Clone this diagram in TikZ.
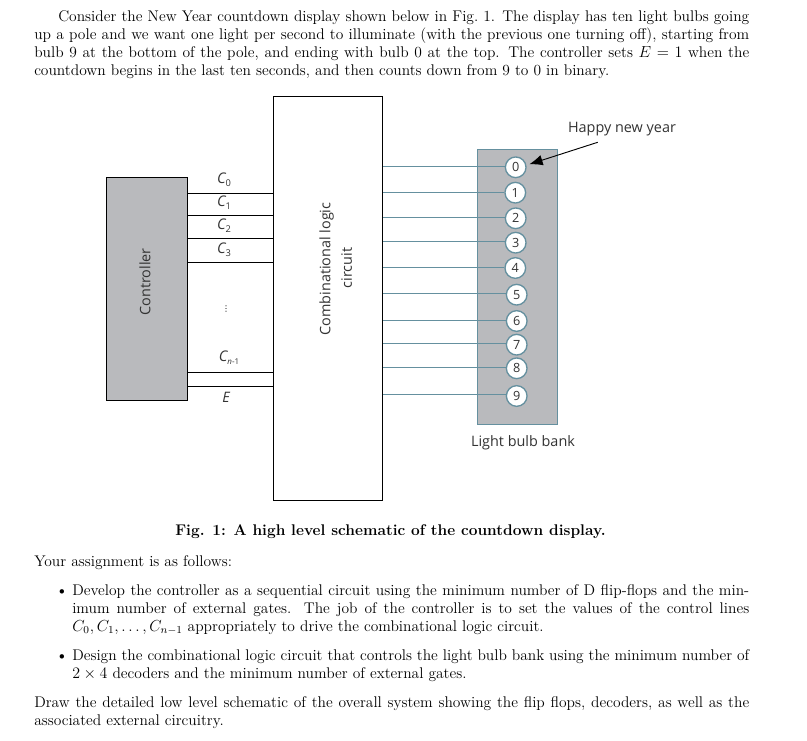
\documentclass[tikz,border=0pt]{standalone}
\usepackage{fontspec}
\usetikzlibrary{arrows.meta}
\newfontfamily\lab{Open Sans}
\newfontfamily\djv{DejaVu Sans}
\definecolor{graybox}{HTML}{B9BABD}
\definecolor{tealline}{HTML}{65909F}
\definecolor{labgray}{HTML}{333333}
\newcommand{\csub}[1]{{\lab\fontsize{11}{12}\selectfont\itshape C}\raisebox{-2.5pt}{\lab\scriptsize #1}}
\tikzset{
 x=0.75pt,y=-0.75pt,
 blockbox/.style={draw=black,line width=0.8pt,inner sep=0pt,anchor=north west},
 grayblock/.style={blockbox,fill=graybox},
 wire/.style={draw=black,line width=0.8pt},
 bulbwire/.style={draw=tealline,line width=0.8pt},
 bulb/.style={circle,draw=tealline,line width=1pt,fill=white,minimum size=15.5pt,inner sep=0pt,font=\lab\fontsize{9.5}{11}\selectfont,text=labgray},
 lbl/.style={font=\lab\fontsize{10.8}{12}\selectfont,text=labgray,inner sep=0pt},
 para/.style={anchor=north west,inner sep=0pt,align=justify,font=\fontsize{11.6}{13.35}\selectfont},
}
\begin{document}
\begin{tikzpicture}
\useasboundingbox (0,0) rectangle (807,741);
\fill[white] (0,0) rectangle (807,741);
% text
\node[para,text width=536.25pt] (p1) at (34,10.5) {\hspace*{18pt}Consider the New Year countdown display shown below in Fig.~1. The display has ten light bulbs going\linebreak up a pole and we want one light per second to illuminate (with the previous one turning off), starting from\linebreak bulb 9 at the bottom of the pole, and ending with bulb 0 at the top. The controller sets $E=1$ when the\linebreak countdown begins in the last ten seconds, and then counts down from 9 to 0 in binary.};
\node[anchor=base west,inner sep=0pt,font=\fontsize{11.6}{13.35}\selectfont\bfseries] (cap) at (175,535) {Fig. 1: A high level schematic of the countdown display.};
\node[para,text width=536.25pt] (p2) at (34,555.5) {Your assignment is as follows:};
\node[anchor=center,inner sep=0pt,font=\fontsize{8}{10}\selectfont] (b1) at (62,592) {$\bullet$};
\node[para,text width=507.75pt] (p3) at (72,584.5) {Develop the controller as a sequential circuit using the minimum number of D flip-flops and the min-\linebreak imum number of external gates. The job of the controller is to set the values of the control lines\linebreak $C_0, C_1, \ldots, C_{n-1}$ appropriately to drive the combinational logic circuit.};
\node[anchor=center,inner sep=0pt,font=\fontsize{8}{10}\selectfont] (b2) at (62,657) {$\bullet$};
\node[para,text width=507.75pt] (p4) at (72,649.5) {Design the combinational logic circuit that controls the light bulb bank using the minimum number of\linebreak $2\times4$ decoders and the minimum number of external gates.};
\node[para,text width=536.25pt] (p5) at (34,696.5) {Draw the detailed low level schematic of the overall system showing the flip flops, decoders, as well as the\linebreak associated external circuitry.};
% blocks
\node[grayblock,minimum width=60.5pt,minimum height=167.25pt] (ctrl) at (106.3,177.3) {};
\node[blockbox,minimum width=81.6pt,minimum height=303pt] (logic) at (273.3,96.3) {};
\node[lbl,rotate=90] (ctrltxt) at (145,282) {Controller};
\node[lbl,rotate=90] (logictxt1) at (326.7,269) {Combinational logic};
\node[lbl,rotate=90] (logictxt2) at (346.7,268) {circuit};
% control wires
\foreach \yy in {193.3,215.3,238.3,262.3,372.3,386.3}
  \draw[wire] (ctrl.east |- 0,\yy) -- (logic.west |- 0,\yy);
\node[lbl] (c0) at (224,180) {\csub{0}};
\node[lbl] (c1) at (224,203) {\csub{1}};
\node[lbl] (c2) at (224,226) {\csub{2}};
\node[lbl] (c3) at (224,250) {\csub{3}};
\node[lbl,text=black,font=\djv\fontsize{6}{6}\selectfont] (cdots) at (226,309) {⋮};
\node[lbl] (cn) at (229,358) {{\lab\fontsize{11}{12}\selectfont\itshape C}\raisebox{-2.5pt}{\lab\fontsize{6}{6}\selectfont\itshape n\upshape-1}};
\node[lbl] (ce) at (226,397) {{\lab\itshape E}};
% bulb bank
\node[grayblock,draw=tealline,minimum width=60pt,minimum height=206.25pt] (bank) at (477.3,149.3) {};
\node[bulb] (n0) at (515.7,167.3) {0};
\node[bulb] (n1) at (515.3,192.7) {1};
\node[bulb] (n2) at (515.7,218.3) {2};
\node[bulb] (n3) at (515.7,242.7) {3};
\node[bulb] (n4) at (515.3,268) {4};
\node[bulb] (n5) at (516.7,294.7) {5};
\node[bulb] (n6) at (516.7,321) {6};
\node[bulb] (n7) at (516.7,344.7) {7};
\node[bulb] (n8) at (516.7,368.3) {8};
\node[bulb] (n9) at (516.7,396) {9};
\foreach \nn/\yy in {n0/166.7,n1/192.3,n2/217.3,n3/241.3,n4/267.3,n5/293.3,n6/320.3,n7/343.3,n8/367.3,n9/394.3}
  \draw[bulbwire] (logic.east |- 0,\yy) -- (\nn.west |- 0,\yy);
\node[lbl] (happy) at (622,129.5) {Happy new year};
\node[lbl] (banktxt) at (523,443) {Light bulb bank};
\coordinate (arrowstart) at (597.7,142.3);
\coordinate (arrowtip) at (529.3,164.3);
\draw[line width=0.7pt,-{Latex[length=10pt,width=8pt]}] (arrowstart) -- (arrowtip);
\end{tikzpicture}
\end{document}
